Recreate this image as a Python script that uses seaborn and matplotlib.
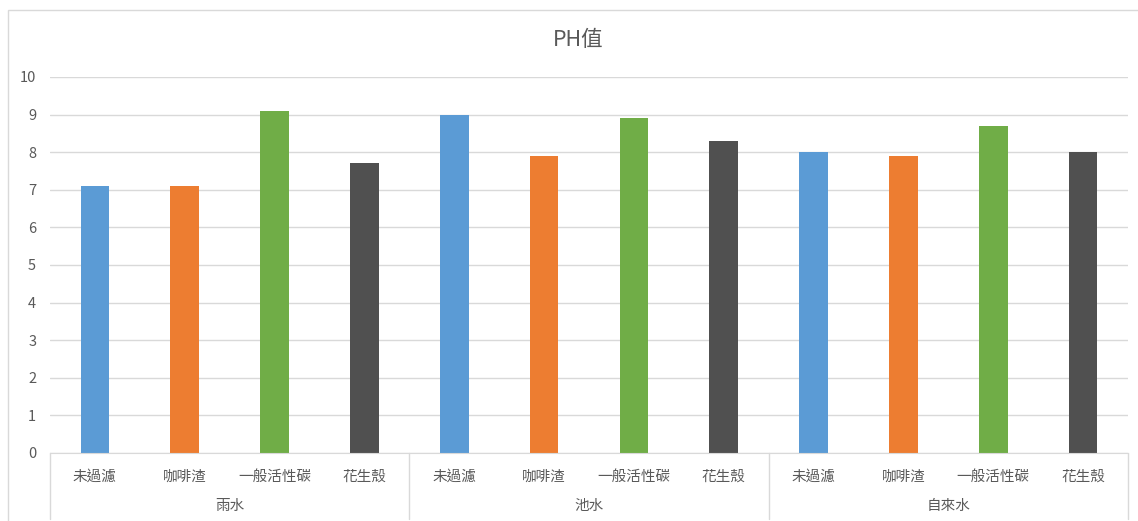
import pandas as pd
import matplotlib
matplotlib.use("Agg")
import matplotlib.pyplot as plt
from matplotlib.patches import Rectangle
import seaborn as sns

# data
waters = ["雨水", "池水", "自來水"]
filters = ["未過濾", "咖啡渣", "一般活性碳", "花生殼"]
ph_rain = [7.1, 7.1, 9.1, 7.7]
ph_pond = [9.0, 7.9, 8.9, 8.3]
ph_tap = [8.0, 7.9, 8.7, 8.0]
colors = ["#5B9BD5", "#ED7D31", "#70AD47", "#505050"]

sns.set_style("white")
plt.rcParams['font.family'] = ['Noto Sans CJK TC', 'DejaVu Sans']

rows = []
for water, vals in zip(waters, [ph_rain, ph_pond, ph_tap]):
    for f, v in zip(filters, vals):
        rows.append({'slot': water + "-" + f, 'water': water, 'filter': f, 'ph': v})
df = pd.DataFrame(rows)

fig = plt.figure(figsize=(11.38, 5.21), dpi=100)
ax = fig.add_axes([50 / 1138, 1 - 453 / 521, 1078 / 1138, 376 / 521])

sns.barplot(data=df, x='slot', y='ph', hue='filter', hue_order=filters,
            palette=colors, dodge=False, width=0.32, legend=False, ax=ax,
            saturation=1, edgecolor='none')

ax.set_ylim(0, 10)
ax.set_yticks(range(0, 11))
ax.set_xlim(-0.5, len(df) - 0.5)
ax.grid(axis='y', color='#D9D9D9', linewidth=1)
ax.set_axisbelow(True)
for s in ['top', 'right', 'left']:
    ax.spines[s].set_visible(False)
ax.spines['bottom'].set_color('#D9D9D9')
ax.tick_params(axis='both', length=0, colors='#595959', labelsize=10.5)
ax.tick_params(axis='x', pad=12)
ax.tick_params(axis='y', pad=10)
ax.set_xticks(range(len(df)))
ax.set_xticklabels(df['filter'])
ax.set_xlabel("")
ax.set_ylabel("")

# group labels and separators under the axis
n = len(filters)
for i, water in enumerate(waters):
    ax.text(i * n + (n - 1) / 2, -0.14, water, transform=ax.get_xaxis_transform(),
            ha='center', va='center', fontsize=10.5, color='#595959')
for i in range(len(waters) + 1):
    ax.plot([i * n - 0.5, i * n - 0.5], [0, -0.175], transform=ax.get_xaxis_transform(),
            color='#D9D9D9', linewidth=1, clip_on=False)

fig.text(578 / 1138, 1 - 40 / 521, "PH值", ha='center', va='center',
         fontsize=15.5, color='#595959')

fig.patches.append(Rectangle((8 / 1138, -0.02), 1.0, 1 - 10 / 521 + 0.02,
                             transform=fig.transFigure, fill=False,
                             edgecolor='#D9D9D9', linewidth=1))

fig.savefig("out.png", dpi=100)
